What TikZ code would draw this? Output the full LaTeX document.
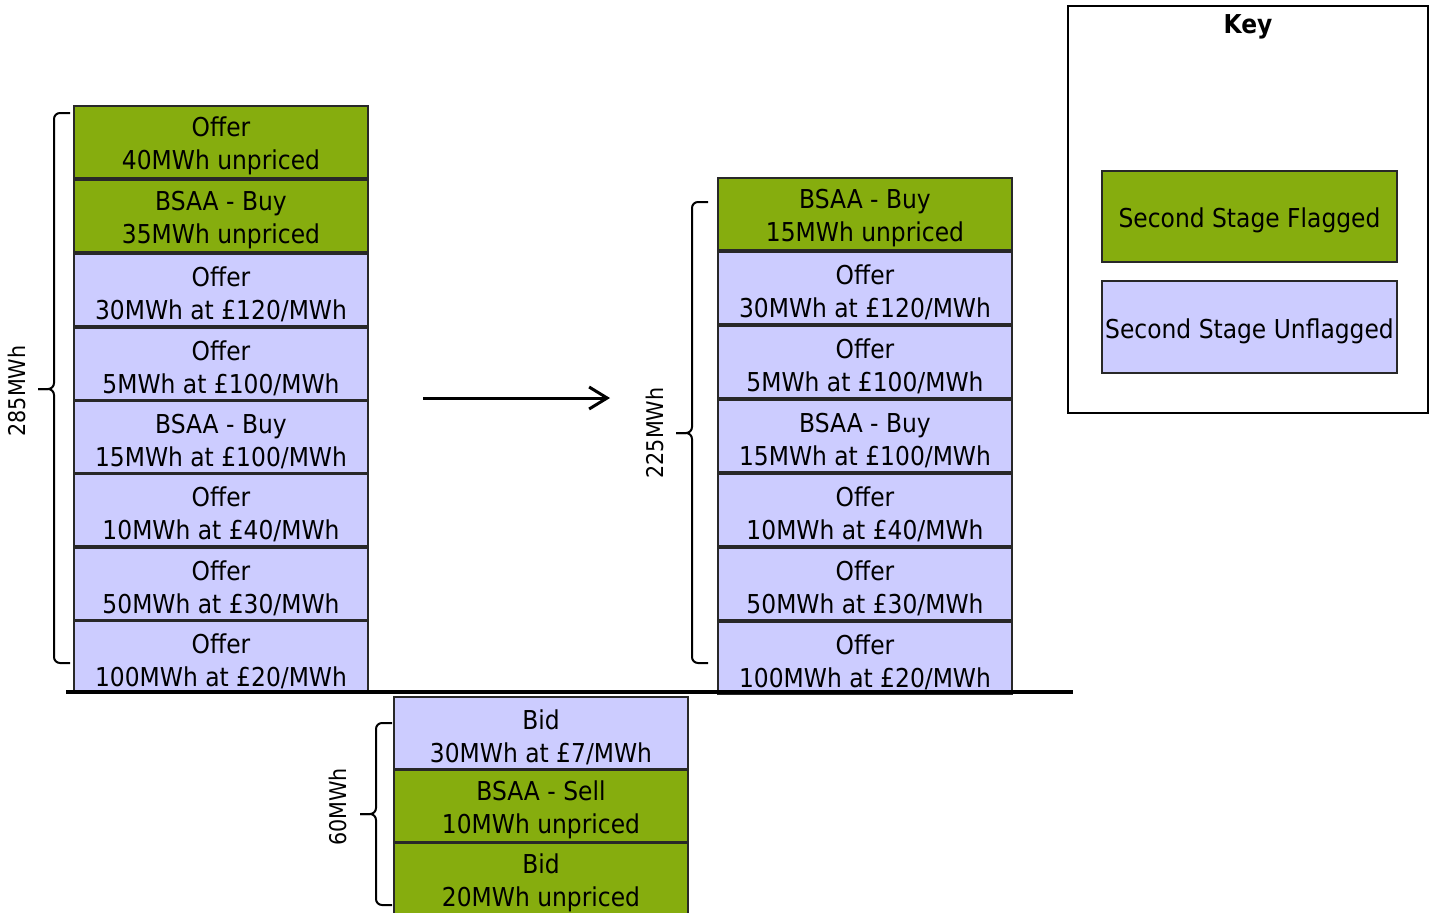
\documentclass[tikz,border=0pt]{standalone}
\usepackage{fontspec}
\setmainfont{DejaVu Sans}[FakeStretch=0.9]
\usetikzlibrary{arrows.meta}
\definecolor{flag}{RGB}{134,173,14}
\definecolor{unflag}{RGB}{204,204,255}
\definecolor{edgec}{RGB}{40,40,40}
\newcommand{\twoln}[2]{\rule{0pt}{14pt}#1\\#2}
\tikzset{
  bar/.style={draw=edgec, line width=0.75pt, minimum width=147pt, minimum height=36pt,
    inner sep=0pt, align=center, font=\fontsize{13}{16.5}\selectfont},
  fl/.style={bar, fill=flag},
  uf/.style={bar, fill=unflag},
  bracec/.style={draw, line width=1pt, rounded corners=3pt},
  blabel/.style={rotate=90, font=\fontsize{11.5}{14}\selectfont},
}
\begin{document}
\begin{tikzpicture}[x=0.5pt, y=-0.5pt]
\useasboundingbox (0,0) rectangle (1435,912);
% left column
\node[fl] (l1) at (221,142) {\twoln{Offer}{40MWh unpriced}};
\node[fl] (l2) at (221,216) {\twoln{BSAA - Buy}{35MWh unpriced}};
\node[uf] (l3) at (221,290) {\twoln{Offer}{30MWh at £120/MWh}};
\node[uf] (l4) at (221,364) {\twoln{Offer}{5MWh at £100/MWh}};
\node[uf] (l5) at (221,437) {\twoln{BSAA - Buy}{15MWh at £100/MWh}};
\node[uf] (l6) at (221,510) {\twoln{Offer}{10MWh at £40/MWh}};
\node[uf] (l7) at (221,584) {\twoln{Offer}{50MWh at £30/MWh}};
\node[uf] (l8) at (221,657) {\twoln{Offer}{100MWh at £20/MWh}};
% right column
\node[fl] (r1) at (865,214) {\twoln{BSAA - Buy}{15MWh unpriced}};
\node[uf] (r2) at (865,288) {\twoln{Offer}{30MWh at £120/MWh}};
\node[uf] (r3) at (865,362) {\twoln{Offer}{5MWh at £100/MWh}};
\node[uf] (r4) at (865,436) {\twoln{BSAA - Buy}{15MWh at £100/MWh}};
\node[uf] (r5) at (865,510) {\twoln{Offer}{10MWh at £40/MWh}};
\node[uf] (r6) at (865,584) {\twoln{Offer}{50MWh at £30/MWh}};
\node[uf] (r7) at (865,658) {\twoln{Offer}{100MWh at £20/MWh}};
% bottom column
\node[uf] (b1) at (541,733) {\twoln{Bid}{30MWh at £7/MWh}};
\node[fl] (b2) at (541,806) {\twoln{BSAA - Sell}{10MWh unpriced}};
\node[fl] (b3) at (541,879) {\twoln{Bid}{20MWh unpriced}};
% baseline
\coordinate (g1) at (66,692);
\coordinate (g2) at (1073,692);
\draw[line width=2pt] (g1) -- (g2);
% arrow
\coordinate (a1) at (423,398);
\coordinate (a2) at (610,398);
\draw[line width=1.5pt, -{Straight Barb[length=9pt,width=11pt]}] (a1) -- (a2);
% braces
\coordinate (lbt) at (70,113); \coordinate (lbb) at (70,663);
\coordinate (lbm) at (54,389); \coordinate (lbtip) at (38,389);
\draw[bracec] (lbt) -- (54,113) -- (lbm) -- (lbtip);
\draw[bracec] (lbb) -- (54,663) -- (lbm) -- (lbtip);
\node[blabel] (lt) at (17,391) {285MWh};
\coordinate (rbt) at (708,202); \coordinate (rbb) at (708,663);
\coordinate (rbm) at (692,433); \coordinate (rbtip) at (676,433);
\draw[bracec] (rbt) -- (692,202) -- (rbm) -- (rbtip);
\draw[bracec] (rbb) -- (692,663) -- (rbm) -- (rbtip);
\node[blabel] (rt) at (655,433) {225MWh};
\coordinate (bbt) at (392,723); \coordinate (bbb) at (392,905);
\coordinate (bbm) at (376,814); \coordinate (bbtip) at (360,814);
\draw[bracec] (bbt) -- (376,723) -- (bbm) -- (bbtip);
\draw[bracec] (bbb) -- (376,905) -- (bbm) -- (bbtip);
\node[blabel] (bt) at (338,807) {60MWh};
% key
\node[draw=black, line width=1pt, minimum width=180pt, minimum height=203.5pt, inner sep=0pt] (key) at (1248,209.5) {};
\node[font=\fontsize{13}{16}\selectfont\bfseries] (kt) at (1248,27) {Key};
\node[fl, minimum width=147.5pt, minimum height=45.5pt] (k1) at (1249.5,216.5) {\rule{0pt}{14pt}Second Stage Flagged};
\node[uf, minimum width=147.5pt, minimum height=46pt] (k2) at (1249.5,327) {\rule{0pt}{14pt}Second Stage Unflagged};
\end{tikzpicture}
\end{document}
